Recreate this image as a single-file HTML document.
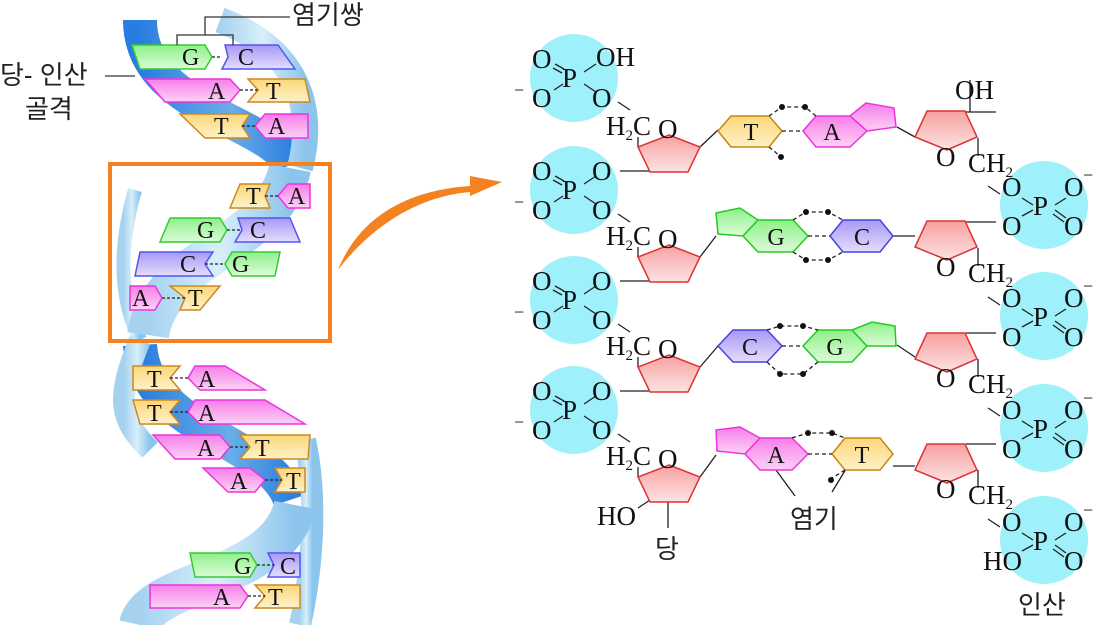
<!DOCTYPE html>
<html><head><meta charset="utf-8"><style>
html,body{margin:0;padding:0;background:#fff;}
svg{display:block;}
text{font-family:"Liberation Serif","Noto Serif CJK SC",serif;fill:#111;}
.k{font-family:"Liberation Sans","Noto Sans CJK KR",sans-serif;font-size:26px;fill:#222;}
.c{font-size:27px;}
.b{font-size:24px;}
.s{font-size:15px;}
</style></head><body>
<svg width="1095" height="625" viewBox="0 0 1095 625" xmlns="http://www.w3.org/2000/svg">
<defs>
<linearGradient id="red" x1="0" y1="0" x2="0" y2="1"><stop offset="0" stop-color="#f7a0a0"/><stop offset="1" stop-color="#fde3e3"/></linearGradient>
<linearGradient id="yel" x1="0" y1="0" x2="0" y2="1"><stop offset="0" stop-color="#fbd77a"/><stop offset="1" stop-color="#fff1c8"/></linearGradient>
<linearGradient id="pink" x1="0" y1="0" x2="0" y2="1"><stop offset="0" stop-color="#f77ee8"/><stop offset="1" stop-color="#fcd2f6"/></linearGradient>
<linearGradient id="grn" x1="0" y1="0" x2="0" y2="1"><stop offset="0" stop-color="#8ef08a"/><stop offset="1" stop-color="#dcfcd8"/></linearGradient>
<linearGradient id="pur" x1="0" y1="0" x2="0" y2="1"><stop offset="0" stop-color="#a898f5"/><stop offset="1" stop-color="#e4ddfd"/></linearGradient>
<linearGradient id="rib" x1="0" y1="0" x2="1" y2="0"><stop offset="0" stop-color="#a6d2f0"/><stop offset="0.5" stop-color="#d8eff9"/><stop offset="1" stop-color="#8cc4ec"/></linearGradient>
<linearGradient id="back" x1="0" y1="0" x2="1" y2="0"><stop offset="0" stop-color="#2a7de0"/><stop offset="0.6" stop-color="#6aaee8"/><stop offset="1" stop-color="#2f80e0"/></linearGradient>
</defs>

<g fill="none">
<path d="M140,20 C140,110 270,120 290,165" stroke="url(#back)" stroke-width="34"/>
<path d="M140,345 C145,430 270,440 290,500" stroke="url(#back)" stroke-width="34"/>
<path d="M220,20 C300,50 315,110 300,168" stroke="url(#rib)" stroke-width="26"/>
<path d="M135,190 C118,250 120,300 140,340" stroke="url(#rib)" stroke-width="14"/>
<path d="M140,340 C115,400 120,420 150,450" stroke="url(#rib)" stroke-width="22"/>
<path d="M305,440 C318,500 312,570 300,625" stroke="url(#rib)" stroke-width="22"/>
<path d="M290,168 C275,245 160,255 148,335" stroke="url(#rib)" stroke-width="42"/>
<path d="M295,505 C280,580 150,580 140,625" stroke="url(#rib)" stroke-width="42"/>
</g>
<g stroke-width="1.5">
<polygon points="132,45 205,45 212,57 205,69 140,69" fill="url(#grn)" stroke="#3c3"/>
<polygon points="225,45 278,45 295,69 222,69 228,57" fill="url(#pur)" stroke="#55e"/>
<polygon points="145,79 230,79 240,90 230,102 165,102" fill="url(#pink)" stroke="#e3d"/>
<polygon points="248,79 305,79 310,102 248,102 258,90" fill="url(#yel)" stroke="#c82"/>
<polygon points="180,114 250,114 242,126 250,138 205,138" fill="url(#yel)" stroke="#c82"/>
<polygon points="265,114 308,114 308,138 265,138 255,126" fill="url(#pink)" stroke="#e3d"/>
<polygon points="240,184 270,184 265,196 270,208 230,208" fill="url(#yel)" stroke="#c82"/>
<polygon points="288,184 310,184 310,208 288,208 278,196" fill="url(#pink)" stroke="#e3d"/>
<polygon points="170,218 220,218 227,230 220,242 160,242" fill="url(#grn)" stroke="#3c3"/>
<polygon points="238,218 290,218 300,242 235,242 242,230" fill="url(#pur)" stroke="#55e"/>
<polygon points="140,252 213,252 205,264 213,276 135,276" fill="url(#pur)" stroke="#55e"/>
<polygon points="232,252 280,252 275,276 232,276 225,264" fill="url(#grn)" stroke="#3c3"/>
<polygon points="130,286 155,286 162,298 155,310 130,310" fill="url(#pink)" stroke="#e3d"/>
<polygon points="170,286 220,286 200,310 180,310 185,298" fill="url(#yel)" stroke="#c82"/>
<polygon points="133,366 180,366 170,378 180,390 133,390" fill="url(#yel)" stroke="#c82"/>
<polygon points="195,366 225,366 265,390 200,390 188,378" fill="url(#pink)" stroke="#e3d"/>
<polygon points="133,400 180,400 170,412 180,424 140,424" fill="url(#yel)" stroke="#c82"/>
<polygon points="195,400 265,400 305,424 200,424 188,412" fill="url(#pink)" stroke="#e3d"/>
<polygon points="153,435 220,435 230,447 220,459 175,459" fill="url(#pink)" stroke="#e3d"/>
<polygon points="240,435 310,435 308,459 240,459 250,447" fill="url(#yel)" stroke="#c82"/>
<polygon points="203,468 250,468 265,480 255,492 228,492" fill="url(#pink)" stroke="#e3d"/>
<polygon points="275,468 305,468 305,492 275,492 282,480" fill="url(#yel)" stroke="#c82"/>
<polygon points="190,553 250,553 257,565 250,577 195,577" fill="url(#grn)" stroke="#3c3"/>
<polygon points="268,553 300,553 300,577 268,577 274,565" fill="url(#pur)" stroke="#55e"/>
<polygon points="150,585 240,585 248,596 240,608 150,608" fill="url(#pink)" stroke="#e3d"/>
<polygon points="255,585 300,585 300,608 255,608 265,596" fill="url(#yel)" stroke="#c82"/>
</g>
<g stroke="#222" stroke-width="1.2" stroke-dasharray="3,2">
<path d="M212,57 H222 M240,90 H258 M242,126 H255 M265,196 H278 M227,230 H242 M205,264 H225 M162,298 H185 M170,378 H188 M170,412 H188 M230,447 H250 M265,480 H282 M257,565 H274 M248,596 H265"/>
</g>
<g class="b">
<text x="182" y="65">G</text><text x="238" y="65">C</text>
<text x="208" y="99">A</text><text x="266" y="99">T</text>
<text x="214" y="134">T</text><text x="268" y="134">A</text>
<text x="246" y="204">T</text><text x="288" y="204">A</text>
<text x="197" y="238">G</text><text x="250" y="238">C</text>
<text x="180" y="272">C</text><text x="232" y="272">G</text>
<text x="132" y="306">A</text><text x="188" y="306">T</text>
<text x="147" y="387">T</text><text x="198" y="387">A</text>
<text x="147" y="421">T</text><text x="198" y="421">A</text>
<text x="197" y="456">A</text><text x="255" y="456">T</text>
<text x="230" y="489">A</text><text x="286" y="489">T</text>
<text x="234" y="574">G</text><text x="280" y="574">C</text>
<text x="213" y="605">A</text><text x="268" y="605">T</text>
</g>
<path d="M177,45 V35 H233 V45 M205,35 V17 H290" fill="none" stroke="#333" stroke-width="1.3"/>
<text class="k" x="292" y="24">염기쌍</text>
<text class="k" x="0" y="84">당- 인산</text>
<text class="k" x="25" y="118">골격</text>
<line x1="105" y1="76" x2="135" y2="76" stroke="#333" stroke-width="1.3"/>
<rect x="110" y="164" width="220" height="177" fill="none" stroke="#f58220" stroke-width="4"/>
<path d="M338,270 C360,215 410,190 470,186 L470,176 L502,182 L470,196 L470,192 C420,196 372,225 338,270 Z" fill="#f58220"/>

<g fill="#9ef0fa">
<circle cx="574" cy="78" r="44"/><circle cx="574" cy="190" r="44"/><circle cx="574" cy="300" r="44"/><circle cx="574" cy="410" r="44"/>
<circle cx="1044" cy="205" r="44"/><circle cx="1044" cy="316" r="44"/><circle cx="1044" cy="428" r="44"/><circle cx="1044" cy="540" r="44"/>
</g>
<g stroke="#222" stroke-width="1.3" fill="none">
<g id="lp"><path d="M553,68 L562,73 M555,64 L564,69 M584,72 L596,64 M554,90 L563,84 M584,84 L596,92"/></g>
<use href="#lp" y="112"/><use href="#lp" y="222"/><use href="#lp" y="332"/>
<g id="rp"><path d="M1022,198 L1033,205 M1055,205 L1066,198 M1022,216 L1033,210 M1055,210 L1066,218 M1053,214 L1064,222"/></g>
<use href="#rp" y="111"/><use href="#rp" y="223"/><use href="#rp" y="335"/>
<path d="M618,102 L630,110 M618,214 L630,222 M618,324 L630,332 M618,434 L630,442"/>
<path d="M620,171 L650,171 M620,281 L650,281 M620,391 L650,391"/>
<path d="M638,137 V147 M638,247 V257 M638,357 V367 M638,467 V477"/>
<path d="M966,112 L996,112 M966,222 L996,222 M966,333 L996,333 M966,444 L996,444"/>
<path d="M978,138 V156 M978,248 V266 M978,359 V377 M978,470 V488"/>
<path d="M988,186 L1000,194 M988,297 L1000,305 M988,408 L1000,416 M988,519 L1000,527"/>
<path d="M650,500 L638,508 M668,500 V528"/>
<path d="M700,147 L718,130 M700,257 L716,236 M700,367 L718,346 M700,477 L716,455"/>
<path d="M897,127 L915,137 M893,236 L915,236 M897,345 L915,357 M893,466 L915,466"/>
<path d="M776,470 L795,496 M846,469 L832,492"/>
<path d="M970,80 V112"/>
</g>
<g fill="url(#red)" stroke="#d33" stroke-width="1.5">
<g id="ls"><polygon points="669,135 700,147 688,172 650,172 638,147"/></g>
<use href="#ls" y="110"/><use href="#ls" y="220"/><use href="#ls" y="330"/>
<g id="rs"><polygon points="927,111 965,111 977,137 947,150 915,137"/></g>
<use href="#rs" y="110"/><use href="#rs" y="222"/><use href="#rs" y="333"/>
</g>
<g stroke-width="1.5">
<polygon points="718,131 731,116 769,116 782,131 769,147 731,147" fill="url(#yel)" stroke="#c8860f"/>
<polygon points="850,116 866,103 894,108 896,127 867,131" fill="url(#pink)" stroke="#e3d"/>
<polygon points="803,131 816,116 850,116 867,131 850,147 816,147" fill="url(#pink)" stroke="#e3d"/>
<polygon points="758,220 740,208 716,213 718,234 743,236" fill="url(#grn)" stroke="#2c2"/>
<polygon points="743,236 758,220 793,220 808,236 793,252 758,252" fill="url(#grn)" stroke="#2c2"/>
<polygon points="830,236 843,220 880,220 893,236 880,252 843,252" fill="url(#pur)" stroke="#44d"/>
<polygon points="718,346 733,330 767,330 782,346 767,362 733,362" fill="url(#pur)" stroke="#44d"/>
<polygon points="803,346 818,330 852,330 867,346 852,362 818,362" fill="url(#grn)" stroke="#2c2"/>
<polygon points="852,330 872,322 895,326 896,346 867,346" fill="url(#grn)" stroke="#2c2"/>
<polygon points="760,438 740,427 716,430 717,451 745,454" fill="url(#pink)" stroke="#e3d"/>
<polygon points="745,454 760,438 792,438 808,454 792,470 760,470" fill="url(#pink)" stroke="#e3d"/>
<polygon points="832,454 845,438 880,438 893,454 880,470 845,470" fill="url(#yel)" stroke="#c8860f"/>
</g>
<g stroke="#222" stroke-width="1.3" stroke-dasharray="4,3" fill="none">
<path d="M782,131 L803,131 M769,116 L782,107 L805,107 L816,116 M769,147 L780,156"/>
<path d="M808,236 L830,236 M793,220 L806,212 L828,212 L843,220 M793,252 L806,260 L828,260 L843,252"/>
<path d="M782,346 L803,346 M767,330 L780,326 L803,326 L818,330 M767,362 L780,374 L803,374 L818,362"/>
<path d="M808,454 L832,454 M792,438 L808,433 L832,433 L845,438 M845,470 L832,478"/>
</g>
<g fill="#111">
<circle cx="782" cy="107" r="3"/><circle cx="805" cy="107" r="3"/><circle cx="781" cy="157" r="3"/>
<circle cx="806" cy="212" r="3"/><circle cx="828" cy="212" r="3"/><circle cx="806" cy="260" r="3"/><circle cx="828" cy="260" r="3"/>
<circle cx="780" cy="326" r="3"/><circle cx="803" cy="326" r="3"/><circle cx="780" cy="374" r="3"/><circle cx="803" cy="374" r="3"/>
<circle cx="808" cy="433" r="3"/><circle cx="832" cy="433" r="3"/><circle cx="831" cy="480" r="3"/>
</g>
<g class="b" text-anchor="middle">
<text x="751" y="140">T</text><text x="832" y="140">A</text>
<text x="776" y="245">G</text><text x="862" y="245">C</text>
<text x="750" y="355">C</text><text x="835" y="355">G</text>
<text x="776" y="463">A</text><text x="862" y="463">T</text>
</g>
<g class="c">
<g id="lt"><text x="532" y="68">O</text><text x="562" y="87">P</text><text x="532" y="107">O</text><text x="592" y="107">O</text><text x="514" y="96" font-size="18">−</text></g>
<text x="596" y="66">OH</text>
<use href="#lt" y="112"/><use href="#lt" y="222"/><use href="#lt" y="332"/>
<text x="592" y="180">O</text><text x="592" y="290">O</text><text x="592" y="400">O</text>
<text x="606" y="135">H<tspan class="s" dy="5">2</tspan><tspan dy="-5">C</tspan></text>
<text x="606" y="245">H<tspan class="s" dy="5">2</tspan><tspan dy="-5">C</tspan></text>
<text x="606" y="355">H<tspan class="s" dy="5">2</tspan><tspan dy="-5">C</tspan></text>
<text x="606" y="465">H<tspan class="s" dy="5">2</tspan><tspan dy="-5">C</tspan></text>
<text x="658" y="138">O</text><text x="658" y="248">O</text><text x="658" y="358">O</text><text x="658" y="468">O</text>
<text x="597" y="525">HO</text>
<text x="955" y="99">OH</text>
<text x="936" y="166">O</text><text x="936" y="276">O</text><text x="936" y="387">O</text><text x="936" y="498">O</text>
<text x="968" y="172">CH<tspan class="s" dy="5">2</tspan></text>
<text x="968" y="282">CH<tspan class="s" dy="5">2</tspan></text>
<text x="968" y="393">CH<tspan class="s" dy="5">2</tspan></text>
<text x="968" y="504">CH<tspan class="s" dy="5">2</tspan></text>
<g id="rt"><text x="1002" y="196">O</text><text x="1033" y="215">P</text><text x="1002" y="235">O</text><text x="1064" y="196">O</text><text x="1064" y="235">O</text><text x="1083" y="181" font-size="18">−</text></g>
<use href="#rt" y="111"/><use href="#rt" y="223"/>
<text x="1002" y="531">O</text><text x="1033" y="550">P</text><text x="983" y="570">HO</text><text x="1064" y="531">O</text><text x="1064" y="570">O</text><text x="1083" y="516" font-size="18">−</text>
</g>
<text class="k" x="655" y="558">당</text>
<text class="k" x="790" y="528">염기</text>
<text class="k" x="1018" y="614">인산</text>
</svg>
</body></html>
